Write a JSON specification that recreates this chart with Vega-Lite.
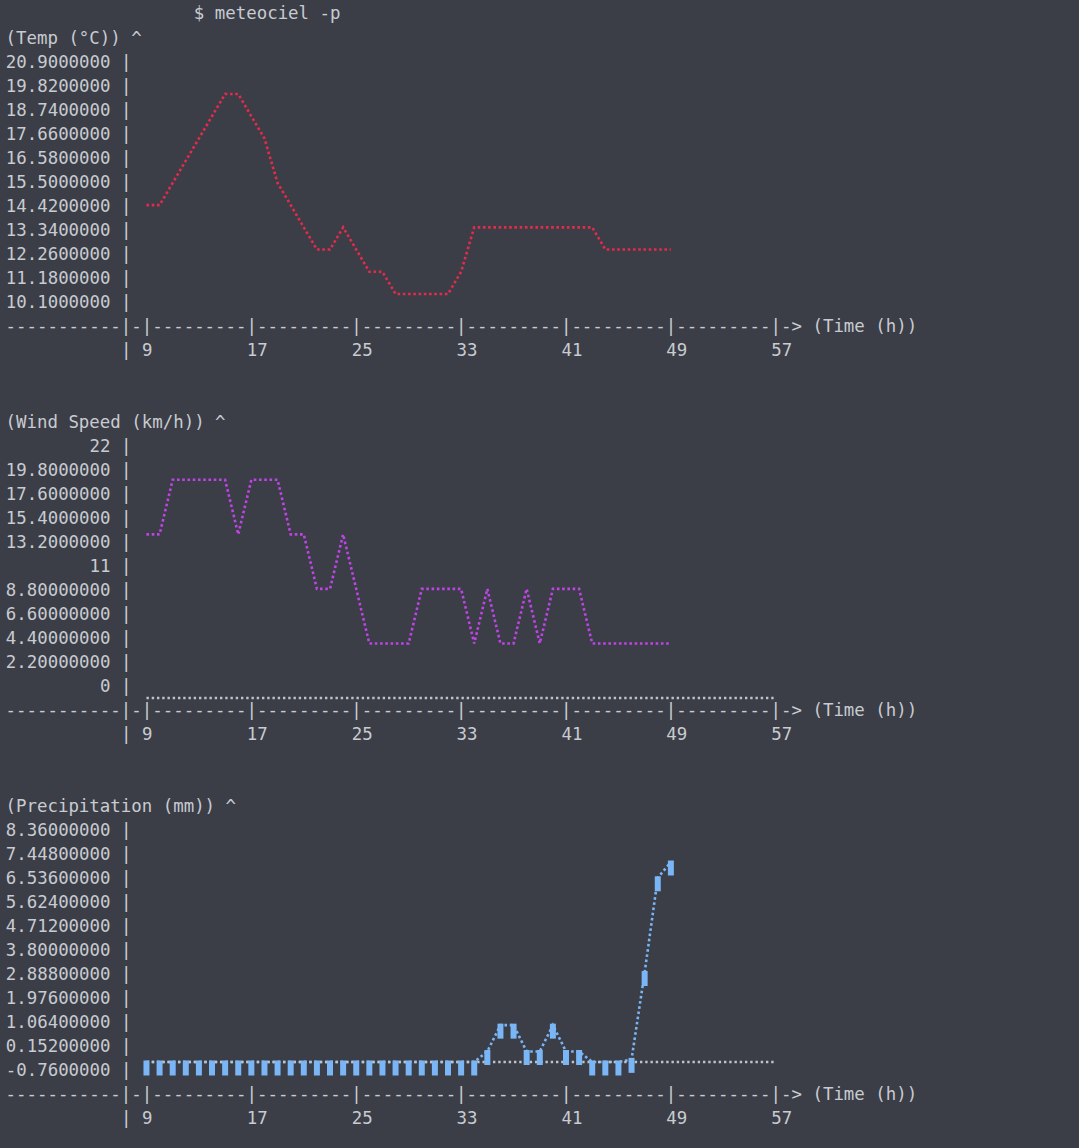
{
"$schema": "https://vega.github.io/schema/vega-lite/v6.json",
"background": "#3b3e47",
"padding": {"left": 5, "top": 4, "right": 162, "bottom": 31},
"title": {"text": "$ meteociel -p", "anchor": "start", "frame": "group", "dx": 62.8, "offset": -2, "baseline": "middle", "font": "DejaVu Sans Mono", "fontSize": 17.42, "fontWeight": "normal", "color": "#c8cbd1"},
"datasets": {
"meteo": [
{"hour": 9, "temp": 15, "wind": 15, "precip": 0},
{"hour": 10, "temp": 15, "wind": 15, "precip": 0},
{"hour": 11, "temp": 16, "wind": 20, "precip": 0},
{"hour": 12, "temp": 17, "wind": 20, "precip": 0},
{"hour": 13, "temp": 18, "wind": 20, "precip": 0},
{"hour": 14, "temp": 19, "wind": 20, "precip": 0},
{"hour": 15, "temp": 20, "wind": 20, "precip": 0},
{"hour": 16, "temp": 20, "wind": 15, "precip": 0},
{"hour": 17, "temp": 19, "wind": 20, "precip": 0},
{"hour": 18, "temp": 18, "wind": 20, "precip": 0},
{"hour": 19, "temp": 16, "wind": 20, "precip": 0},
{"hour": 20, "temp": 15, "wind": 15, "precip": 0},
{"hour": 21, "temp": 14, "wind": 15, "precip": 0},
{"hour": 22, "temp": 13, "wind": 10, "precip": 0},
{"hour": 23, "temp": 13, "wind": 10, "precip": 0},
{"hour": 24, "temp": 14, "wind": 15, "precip": 0},
{"hour": 25, "temp": 13, "wind": 10, "precip": 0},
{"hour": 26, "temp": 12, "wind": 5, "precip": 0},
{"hour": 27, "temp": 12, "wind": 5, "precip": 0},
{"hour": 28, "temp": 11, "wind": 5, "precip": 0},
{"hour": 29, "temp": 11, "wind": 5, "precip": 0},
{"hour": 30, "temp": 11, "wind": 10, "precip": 0},
{"hour": 31, "temp": 11, "wind": 10, "precip": 0},
{"hour": 32, "temp": 11, "wind": 10, "precip": 0},
{"hour": 33, "temp": 12, "wind": 10, "precip": 0},
{"hour": 34, "temp": 14, "wind": 5, "precip": 0},
{"hour": 35, "temp": 14, "wind": 10, "precip": 0.4},
{"hour": 36, "temp": 14, "wind": 5, "precip": 1.4},
{"hour": 37, "temp": 14, "wind": 5, "precip": 1.4},
{"hour": 38, "temp": 14, "wind": 10, "precip": 0.4},
{"hour": 39, "temp": 14, "wind": 5, "precip": 0.4},
{"hour": 40, "temp": 14, "wind": 10, "precip": 1.4},
{"hour": 41, "temp": 14, "wind": 10, "precip": 0.4},
{"hour": 42, "temp": 14, "wind": 10, "precip": 0.4},
{"hour": 43, "temp": 14, "wind": 5, "precip": 0},
{"hour": 44, "temp": 13, "wind": 5, "precip": 0},
{"hour": 45, "temp": 13, "wind": 5, "precip": 0},
{"hour": 46, "temp": 13, "wind": 5, "precip": 0.1},
{"hour": 47, "temp": 13, "wind": 5, "precip": 3.4},
{"hour": 48, "temp": 13, "wind": 5, "precip": 7.0},
{"hour": 49, "temp": 13, "wind": 5, "precip": 7.6}
],
"zero": [
{"hour": 9, "wind": 0, "precip": 0},
{"hour": 57, "wind": 0, "precip": 0}
]
},
"bounds": "flush",
"spacing": 120,
"vconcat": [
{
"width": 650, "height": 264,
"data": {"name": "meteo"},
"mark": {"type": "line", "color": "#e62a4c", "strokeWidth": 2.6, "strokeDash": [2.6, 2.65], "strokeCap": "butt"},
"encoding": {
"x": {"field": "hour", "type": "quantitative", "scale": {"domain": [7.82, 57.4], "nice": false, "zero": false},
"axis": {"title": "-----------|-|---------|---------|---------|---------|---------|---------|-> (Time (h))", "values": [9, 17, 25, 33, 41, 49, 57], "labelExpr": "datum.value === 9 ? '| 9' : format(datum.value, 'd')", "labelOffset": {"condition": {"test": "datum.value === 9", "value": -26}, "value": -5}}},
"y": {"field": "temp", "type": "quantitative", "scale": {"domain": [10.1, 21.98], "nice": false, "zero": false},
"axis": {"title": "(Temp (°C)) ^", "values": [10.1, 11.18, 12.26, 13.34, 14.42, 15.5, 16.58, 17.66, 18.74, 19.82, 20.9], "labelExpr": "replace((floor(datum.value) == datum.value ? format(datum.value, 'd') : substring(format(datum.value, '.8f'), 0, 10)), '\u2212', '-') + ' |'"}}
}
},
{
"width": 650, "height": 264,
"encoding": {
"x": {"field": "hour", "type": "quantitative", "scale": {"domain": [7.82, 57.4], "nice": false, "zero": false},
"axis": {"title": "-----------|-|---------|---------|---------|---------|---------|---------|-> (Time (h))", "values": [9, 17, 25, 33, 41, 49, 57], "labelExpr": "datum.value === 9 ? '| 9' : format(datum.value, 'd')", "labelOffset": {"condition": {"test": "datum.value === 9", "value": -26}, "value": -5}}},
"y": {"field": "wind", "type": "quantitative", "scale": {"domain": [0, 24.2], "nice": false, "zero": false},
"axis": {"title": "(Wind Speed (km/h)) ^", "values": [0, 2.2, 4.4, 6.6, 8.8, 11, 13.2, 15.4, 17.6, 19.8, 22], "labelExpr": "replace((floor(datum.value) == datum.value ? format(datum.value, 'd') : substring(format(datum.value, '.8f'), 0, 10)), '\u2212', '-') + ' |'"}}
},
"layer": [
{"data": {"name": "zero"}, "mark": {"type": "line", "color": "#bfc2c8", "strokeWidth": 2.4, "strokeDash": [2.4, 2.85], "strokeCap": "butt"}},
{"data": {"name": "meteo"}, "mark": {"type": "line", "color": "#bf44e6", "strokeWidth": 2.6, "strokeDash": [2.6, 2.65], "strokeCap": "butt"}}
]
},
{
"width": 650, "height": 264,
"encoding": {
"x": {"field": "hour", "type": "quantitative", "scale": {"domain": [7.82, 57.4], "nice": false, "zero": false},
"axis": {"title": "-----------|-|---------|---------|---------|---------|---------|---------|-> (Time (h))", "values": [9, 17, 25, 33, 41, 49, 57], "labelExpr": "datum.value === 9 ? '| 9' : format(datum.value, 'd')", "labelOffset": {"condition": {"test": "datum.value === 9", "value": -26}, "value": -5}}},
"y": {"field": "precip", "type": "quantitative", "scale": {"domain": [-0.76, 9.272], "nice": false, "zero": false},
"axis": {"title": "(Precipitation (mm)) ^", "values": [-0.76, 0.152, 1.064, 1.976, 2.888, 3.8, 4.712, 5.624, 6.536, 7.448, 8.36], "labelExpr": "replace((floor(datum.value) == datum.value ? format(datum.value, 'd') : substring(format(datum.value, '.8f'), 0, 10)), '\u2212', '-') + ' |'"}}
},
"layer": [
{"data": {"name": "meteo"}, "mark": {"type": "line", "color": "#7ab5f5", "strokeWidth": 2.6, "strokeDash": [2.6, 2.65], "strokeCap": "butt"}},
{"data": {"name": "zero"}, "mark": {"type": "line", "color": "#bfc2c8", "strokeWidth": 2.4, "strokeDash": [2.4, 2.85], "strokeCap": "butt"}},
{"data": {"name": "meteo"}, "mark": {"type": "point", "shape": "M-0.4,-1H0.4V1H-0.4Z", "size": 225, "filled": true, "color": "#7ab5f5", "opacity": 1, "yOffset": 6}}
]
}
],
"config": {
"view": {"stroke": null},
"axis": {"grid": false, "domain": false, "ticks": false, "tickSize": 0, "labelFont": "DejaVu Sans Mono", "labelFontSize": 17.42, "labelColor": "#c8cbd1", "titleFont": "DejaVu Sans Mono", "titleFontSize": 17.42, "titleFontWeight": "normal", "titleColor": "#c8cbd1", "labelOverlap": false, "labelFlush": false, "labelBound": false},
"axisY": {"labelAlign": "right", "labelBaseline": "middle", "labelPadding": 0, "labelOffset": -12, "titleAngle": 0, "titleAlign": "left", "titleBaseline": "middle", "titleX": -126, "titleY": -12},
"axisX": {"labelAlign": "left", "labelBaseline": "middle", "labelPadding": 36, "titleAngle": 0, "titleAlign": "left", "titleBaseline": "middle", "titleX": -126, "titleY": 12, "titleAnchor": "start"}
}
}
